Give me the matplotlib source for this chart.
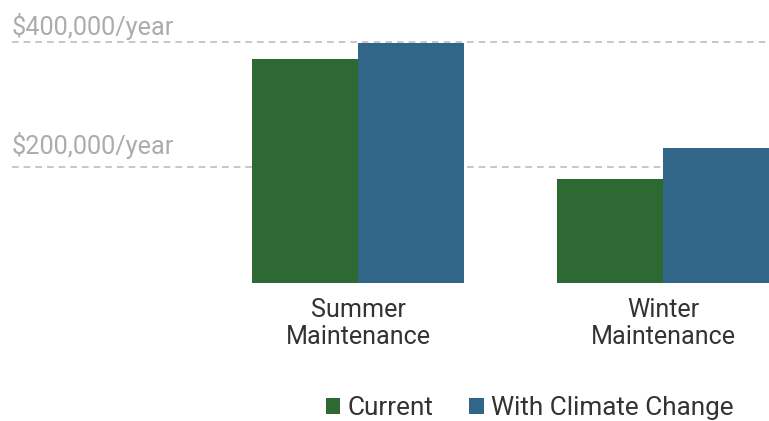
import matplotlib.pyplot as plt
import numpy as np

# Data
categories = ["Summer\nMaintenance", "Winter\nMaintenance"]
current = [372000, 180000]
climate = [398000, 230000]
series_names = ["Current", "With Climate Change"]
grid_values = [200000, 400000]
grid_labels = ["$200,000/year", "$400,000/year"]

GREEN = "#2e6832"
BLUE = "#316688"

plt.rcParams["font.family"] = ["Roboto", "DejaVu Sans"]

fig = plt.figure(figsize=(7.69, 4.21), dpi=100)
W, H = 769, 421
ax = fig.add_axes([12 / W, (H - 283) / H, (W - 12) / W, 283 / H])

x = np.arange(len(categories))
width = 0.3475
ax.bar(x - width / 2, current, width, color=GREEN, label=series_names[0], zorder=2)
ax.bar(x + width / 2, climate, width, color=BLUE, label=series_names[1], zorder=2)

# value scale: 200k per 124.7 px, zero at pixel 291.4 (from top)
px_per_val = 124.7 / 200000
ax.set_ylim((291.4 - 283) / px_per_val, 291.4 / px_per_val)
ax.set_xlim(-1.1344, 1.3475)

label_offsets = [5.3, 1.3]  # points above the gridline
for v, lab, off in zip(grid_values, grid_labels, label_offsets):
    ax.axhline(v, color="#bdbdbd", lw=1.2, ls=(0, (4, 3)), zorder=0)
    ax.annotate(lab, xy=(0, v), xycoords=("axes fraction", "data"),
                xytext=(0, off), textcoords="offset points",
                ha="left", va="bottom", fontsize=18.2, color="#acacac")

ax.set_xticks(x)
ax.set_xticklabels(categories, fontsize=18.1, color="#333333", linespacing=1.12)
ax.tick_params(axis="x", length=0, pad=11)
ax.set_yticks([])
for s in ax.spines.values():
    s.set_visible(False)

fig.legend(loc="center right", bbox_to_anchor=(734 / W, 13 / H), ncol=2, frameon=False,
           fontsize=18.8, handlelength=0.55, handleheight=0.55, handletextpad=0.3,
           columnspacing=1.36, labelcolor="#333333", borderaxespad=0, borderpad=0)

fig.savefig("out.png", dpi=100)
